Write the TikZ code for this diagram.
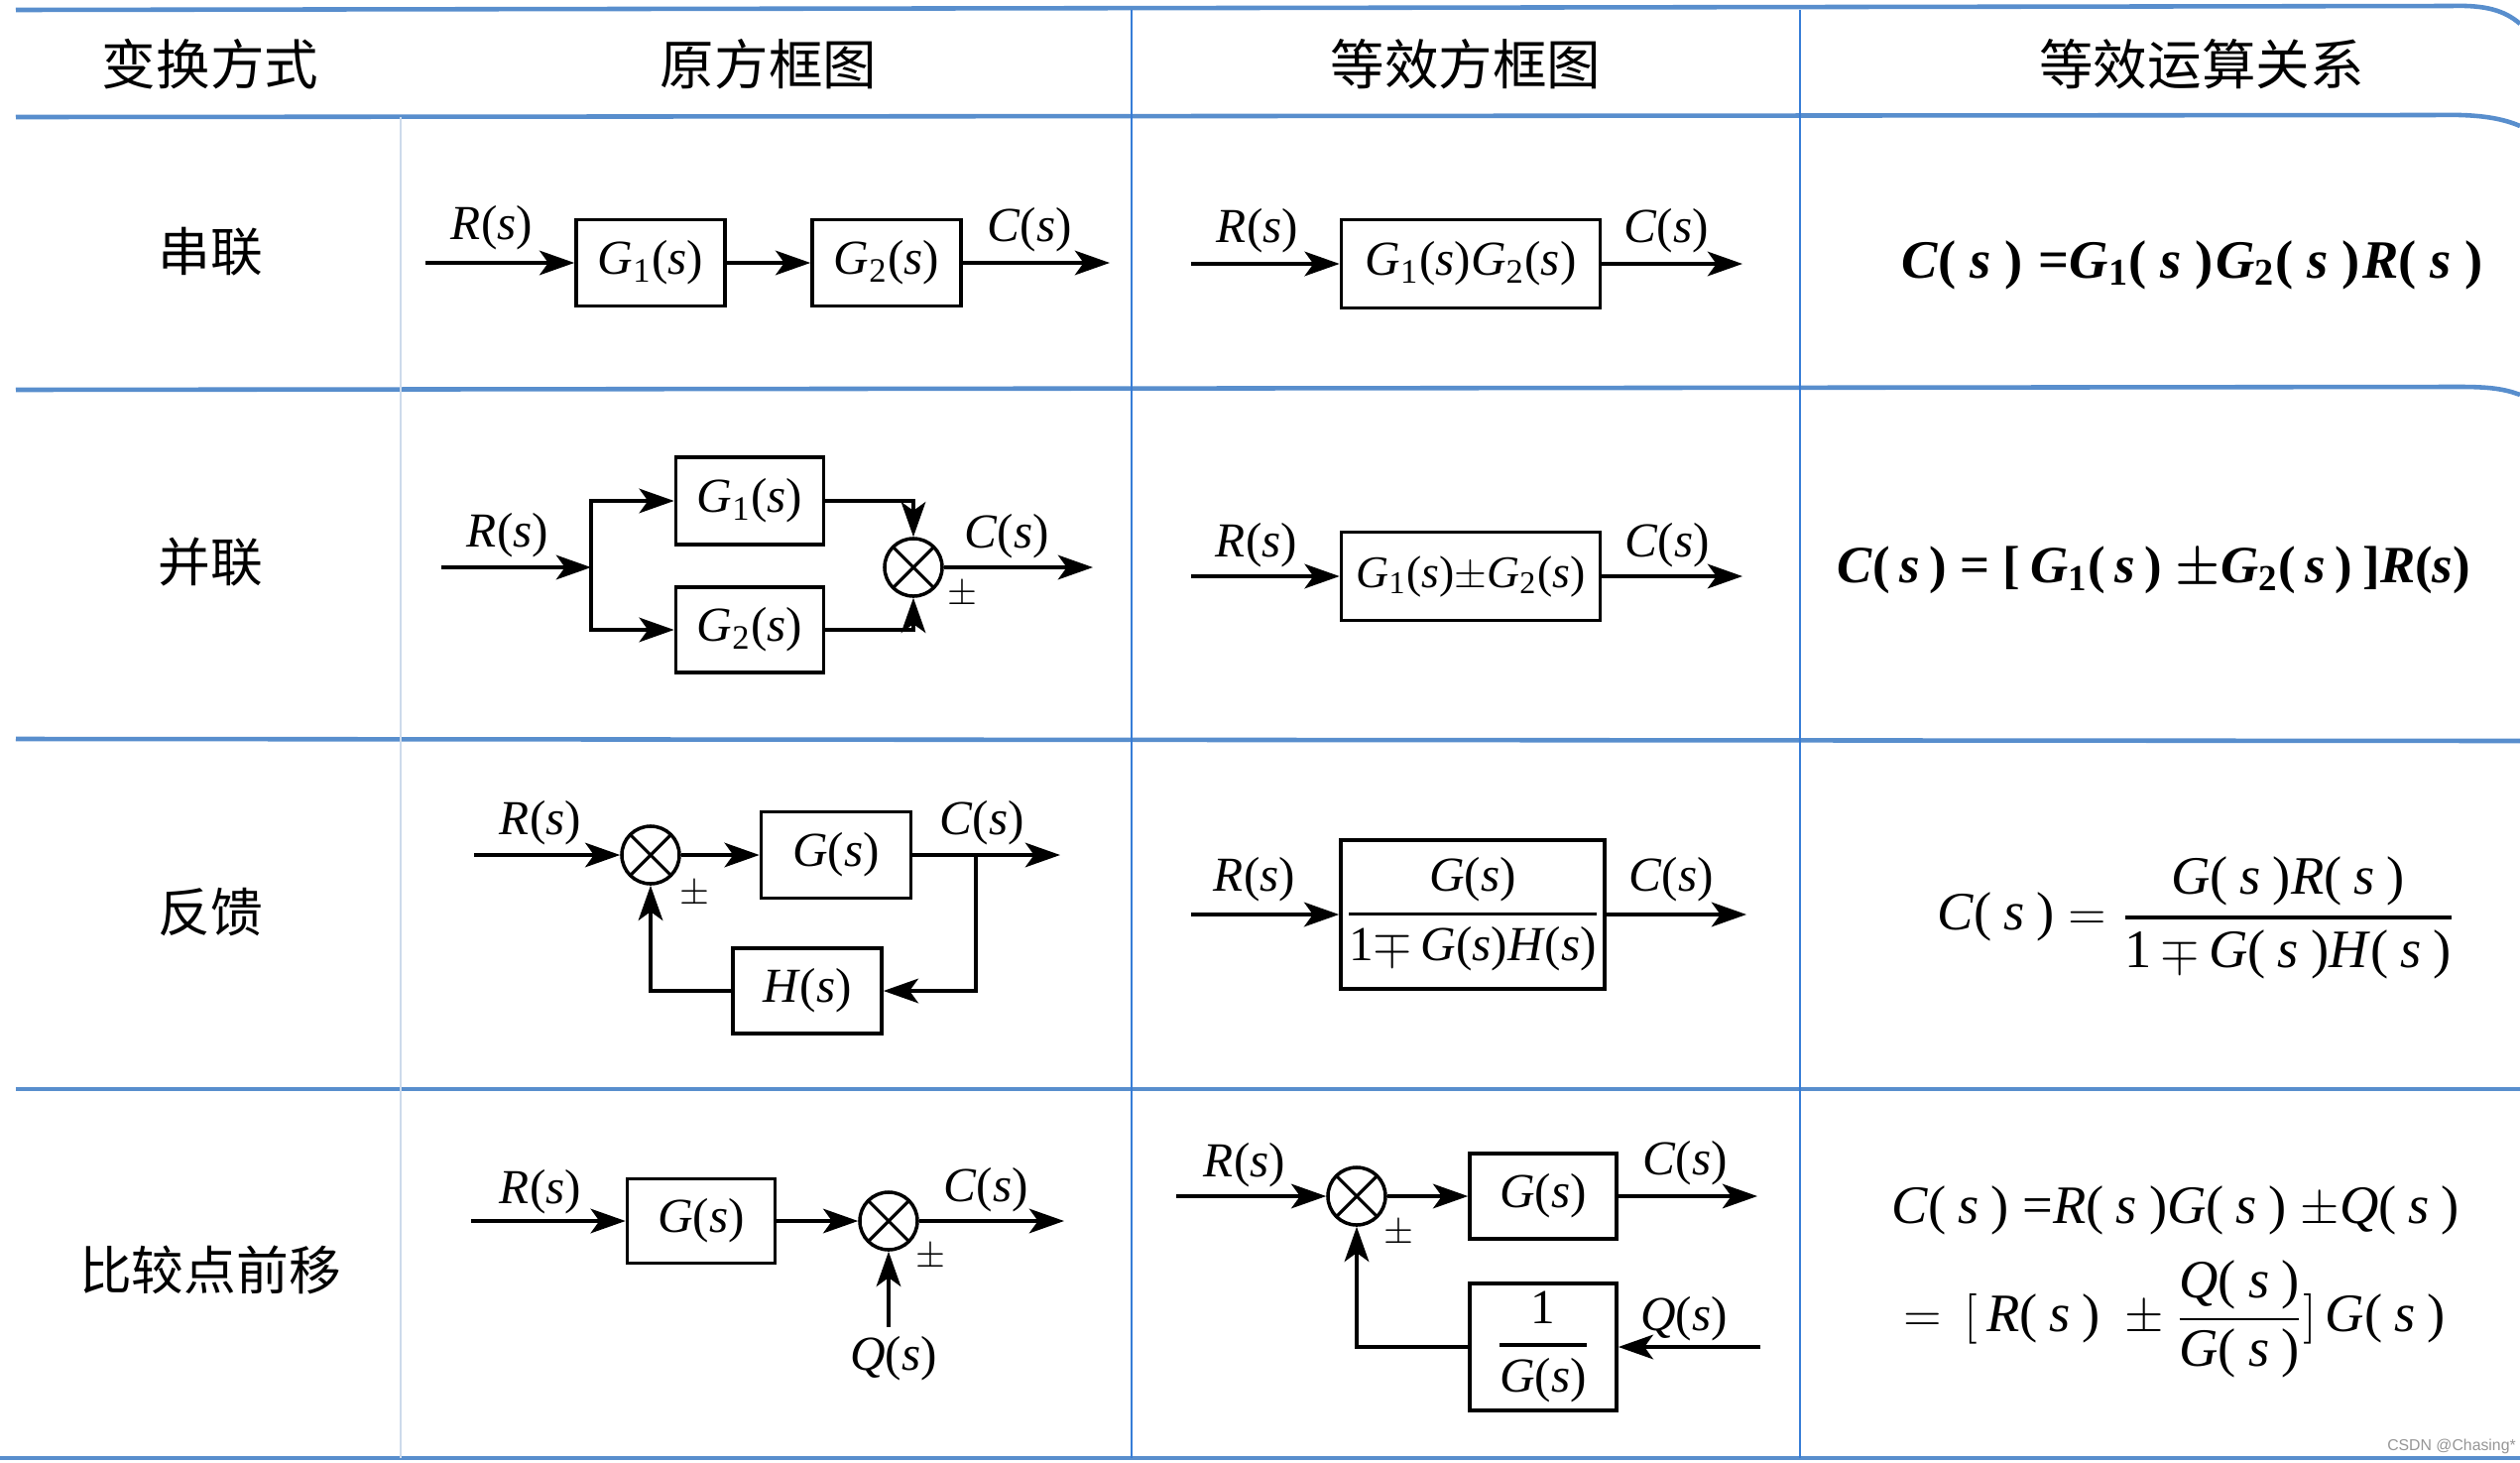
\documentclass[tikz,border=0pt]{standalone}
\usepackage{amsmath}
\usepackage{fontspec}
\setmainfont{Liberation Serif}
\newfontfamily\cjk{Noto Sans CJK SC}
\newfontfamily\wmfont{Liberation Sans}
\usetikzlibrary{arrows.meta}
\definecolor{hblue}{RGB}{88,142,205}
\definecolor{vblue}{RGB}{55,125,215}
\definecolor{vfaint}{RGB}{205,218,235}
\definecolor{wmgray}{RGB}{150,150,150}
\newcommand\mi[1]{\textit{#1}}
\newcommand\fn[1]{\mi{#1}(\mi{s})}
\newcommand\fsub[2]{\mi{#1}\textsubscript{#2}(\mi{s})}
\newcommand\pa{(\kern.22em\mi{s}\kern.22em)}
\newcommand\paw{(\kern.25em\mi{s}\kern.25em)\kern.05em}
\newcommand\pan{(\kern.18em\mi{s}\kern.18em)}
\tikzset{
  x=0.01cm, y=-0.01cm,
  hline/.style={draw=hblue, line width=1.3pt},
  vline/.style={draw=vblue, line width=0.7pt},
  head/.style={font=\cjk\fontsize{15.5}{18}\selectfont, inner sep=0},
  rowlab/.style={font=\cjk\fontsize{15}{18}\selectfont, inner sep=0},
  lab/.style={font=\fontsize{14}{16}\selectfont, inner sep=0},
  pmlab/.style={font=\fontsize{11}{13}\selectfont, inner sep=0},
  blockbox/.style={draw, line width=1pt, minimum width=1.5cm, minimum height=0.87cm, inner sep=0, font=\fontsize{14}{16}\selectfont},
  sumnode/.style={draw, circle, line width=1pt, minimum size=0.58cm, inner sep=0,
     path picture={\draw[line width=0.9pt] (path picture bounding box.north west) -- (path picture bounding box.south east) (path picture bounding box.north east) -- (path picture bounding box.south west);}},
  conn/.style={line width=1pt, -{Stealth[length=10pt,width=7pt,inset=2.5pt]}},
  formula/.style={font=\fontsize{15.5}{18}\selectfont, inner sep=0},
}
\begin{document}
\begin{tikzpicture}
\useasboundingbox (0,0) rectangle (2541,1475);
\fill[white] (0,0) rectangle (2541,1475);

% ---------- table lines ----------
\draw[hline] (16,10) -- (2472,6) .. controls (2505,5) and (2525,10) .. (2541,24);
\draw[hline] (16,118) -- (2454,116) .. controls (2495,115) and (2520,118) .. (2541,127);
\draw[hline] (16,393) -- (2480,390) .. controls (2510,390) and (2525,392) .. (2541,398);
\draw[hline] (16,745) -- (2541,747);
\draw[hline] (16,1098) -- (2541,1098);
\draw[hline] (0,1470) -- (2541,1470);
\draw[vline, draw=vfaint] (404,118) -- (404,1470);
\draw[vline] (1141,10) -- (1141,1470);
\draw[vline] (1815,10) -- (1815,1470);

% ---------- headers ----------
\node[head] (h1) at (212,65) {变换方式};
\node[head] (h2) at (775,65) {原方框图};
\node[head] (h3) at (1478,65) {等效方框图};
\node[head] (h4) at (2220,65) {等效运算关系};

% ---------- row labels ----------
\node[rowlab] (r1) at (212,254) {串联};
\node[rowlab] (r2) at (212,567) {并联};
\node[rowlab] (r3) at (212,920) {反馈};
\node[rowlab] (r4) at (212,1280) {比较点前移};

% ---------- row 1: series ----------
\coordinate (sIn) at (429,265);
\node[blockbox] (sG1) at (656,265) {\fsub{G}{1}};
\node[blockbox] (sG2) at (894,265) {\fsub{G}{2}};
\coordinate (sOut) at (1119,265);
\draw[conn] (sIn) -- (sG1);
\draw[conn] (sG1) -- (sG2);
\draw[conn] (sG2) -- (sOut);
\node[lab] (sR) at (496,230) {\fn{R}};
\node[lab] (sC) at (1038,232) {\fn{C}};

\coordinate (eSIn) at (1201,266);
\node[blockbox, minimum width=2.61cm, minimum height=0.89cm] (eS) at (1483,266) {\fsub{G}{1}\fsub{G}{2}};
\coordinate (eSOut) at (1757,266);
\draw[conn] (eSIn) -- (eS);
\draw[conn] (eS) -- (eSOut);
\node[lab] (eSR) at (1268,233) {\fn{R}};
\node[lab] (eSC) at (1680,233) {\fn{C}};

\node[formula, anchor=west] (fS) at (1917,267) {\bfseries\mi{C}\paw\ =\mi{G}\textsubscript{1}\paw\mi{G}\textsubscript{2}\paw\mi{R}\paw};

% ---------- row 2: parallel ----------
\coordinate (pIn) at (445,572);
\coordinate (pJ) at (596,572);
\node[blockbox, minimum width=1.49cm, minimum height=0.88cm] (pG1) at (756,505) {\fsub{G}{1}};
\node[blockbox, minimum width=1.49cm, minimum height=0.86cm] (pG2) at (756,635) {\fsub{G}{2}};
\node[sumnode] (pSum) at (921,572) {};
\coordinate (pOut) at (1102,572);
\draw[conn] (pIn) -- (pJ);
\draw[conn] (pJ) |- (pG1);
\draw[conn] (pJ) |- (pG2);
\draw[conn] (pG1) -| (pSum);
\draw[conn] (pG2) -| (pSum);
\draw[conn] (pSum) -- (pOut);
\node[lab] (pR) at (512,540) {\fn{R}};
\node[lab] (pC) at (1015,541) {\fn{C}};
\node[pmlab] (pPm) at (970,600) {$\pm$};

\coordinate (ePIn) at (1201,581);
\node[blockbox, minimum width=2.61cm, minimum height=0.89cm, font=\fontsize{13}{15}\selectfont] (eP) at (1483,581) {\fsub{G}{1}$\pm$\fsub{G}{2}};
\coordinate (ePOut) at (1757,581);
\draw[conn] (ePIn) -- (eP);
\draw[conn] (eP) -- (ePOut);
\node[lab] (ePR) at (1267,550) {\fn{R}};
\node[lab] (ePC) at (1681,550) {\fn{C}};

\node[formula, font=\fontsize{15}{18}\selectfont, anchor=west] (fP) at (1852,575) {\bfseries\mi{C}\pan\ = [\kern.2em\mi{G}\textsubscript{1}\pan\ $\boldsymbol{\pm}$\mi{G}\textsubscript{2}\pan\kern.2em]\mi{R}(\mi{s})};

% ---------- row 3: feedback ----------
\coordinate (fIn) at (478,862);
\node[sumnode] (fSum) at (656,862) {};
\node[blockbox, minimum width=1.51cm] (fG) at (843,862) {\fn{G}};
\coordinate (fBr) at (984,862);
\coordinate (fOut) at (1069,862);
\node[blockbox, minimum height=0.86cm] (fH) at (814,999) {\fn{H}};
\draw[conn] (fIn) -- (fSum);
\draw[conn] (fSum) -- (fG);
\draw[conn] (fG) -- (fOut);
\draw[conn] (fBr) |- (fH);
\draw[conn] (fH) -| (fSum);
\node[lab] (fR) at (545,830) {\fn{R}};
\node[lab] (fC) at (990,830) {\fn{C}};
\node[pmlab] (fPm) at (700,902) {$\pm$};

\coordinate (eFIn) at (1201,922);
\node[blockbox, minimum width=2.66cm, minimum height=1.5cm] (eF) at (1485,922)
  {$\genfrac{}{}{1pt}{0}{\mbox{\fn{G}}}{\mbox{1{$\mp$}\,\fn{G}\fn{H}}}$};
\coordinate (eFOut) at (1761,922);
\draw[conn] (eFIn) -- (eF);
\draw[conn] (eF) -- (eFOut);
\node[lab] (eFR) at (1265,887) {\fn{R}};
\node[lab] (eFC) at (1685,887) {\fn{C}};

\node[formula, anchor=west] (fF) at (1953,925) {\mi{C}\pa\ $=\genfrac{}{}{1pt}{0}{\mbox{\mi{G}\pa\mi{R}\pa}}{\mbox{1\,$\mp$\,\mi{G}\pa\mi{H}\pa}}$};

% ---------- row 4: summing point moved ahead ----------
\coordinate (mIn) at (475,1231);
\node[blockbox, minimum width=1.49cm, minimum height=0.85cm] (mG) at (707,1231) {\fn{G}};
\node[sumnode] (mSum) at (896,1231) {};
\coordinate (mOut) at (1073,1231);
\coordinate (mQ) at (896,1338);
\draw[conn] (mIn) -- (mG);
\draw[conn] (mG) -- (mSum);
\draw[conn] (mSum) -- (mOut);
\draw[conn] (mQ) -- (mSum);
\node[lab] (mR) at (545,1202) {\fn{R}};
\node[lab] (mC) at (994,1200) {\fn{C}};
\node[pmlab] (mPm) at (938,1268) {$\pm$};
\node[lab] (mQl) at (901,1370) {\fn{Q}};

\coordinate (nIn) at (1186,1206);
\node[sumnode] (nSum) at (1368,1206) {};
\node[blockbox, minimum width=1.48cm, minimum height=0.86cm] (nG) at (1556,1206) {\fn{G}};
\coordinate (nOut) at (1772,1206);
\node[blockbox, minimum width=1.48cm, minimum height=1.28cm] (nInv) at (1556,1358)
  {$\genfrac{}{}{1pt}{0}{\mbox{1}}{\mbox{\fn{G}}}$};
\coordinate (nQ) at (1775,1358);
\draw[conn] (nIn) -- (nSum);
\draw[conn] (nSum) -- (nG);
\draw[conn] (nG) -- (nOut);
\draw[conn] (nQ) -- (nInv);
\draw[conn] (nInv) -| (nSum);
\node[lab] (nR) at (1255,1175) {\fn{R}};
\node[lab] (nC) at (1699,1173) {\fn{C}};
\node[pmlab] (nPm) at (1410,1244) {$\pm$};
\node[lab] (nQl) at (1698,1330) {\fn{Q}};

\node[formula, anchor=west] (fM1) at (1907,1220) {\mi{C}\pa\ =\mi{R}\pa\mi{G}\pa\ $\pm$\mi{Q}\pa};
\node[formula, anchor=west] (fM2) at (1919,1330)
  {$=\,[\,\mbox{\mi{R}\pa}\ \pm\genfrac{}{}{0.6pt}{0}{\mbox{\mi{Q}\pa}}{\mbox{\mi{G}\pa}}]\,\mbox{\mi{G}\pa}$};

% watermark
\node[font=\wmfont\fontsize{4.5}{5}\selectfont, text=wmgray, inner sep=0] (wm) at (2472,1458) {CSDN @Chasing*};
\end{tikzpicture}
\end{document}
